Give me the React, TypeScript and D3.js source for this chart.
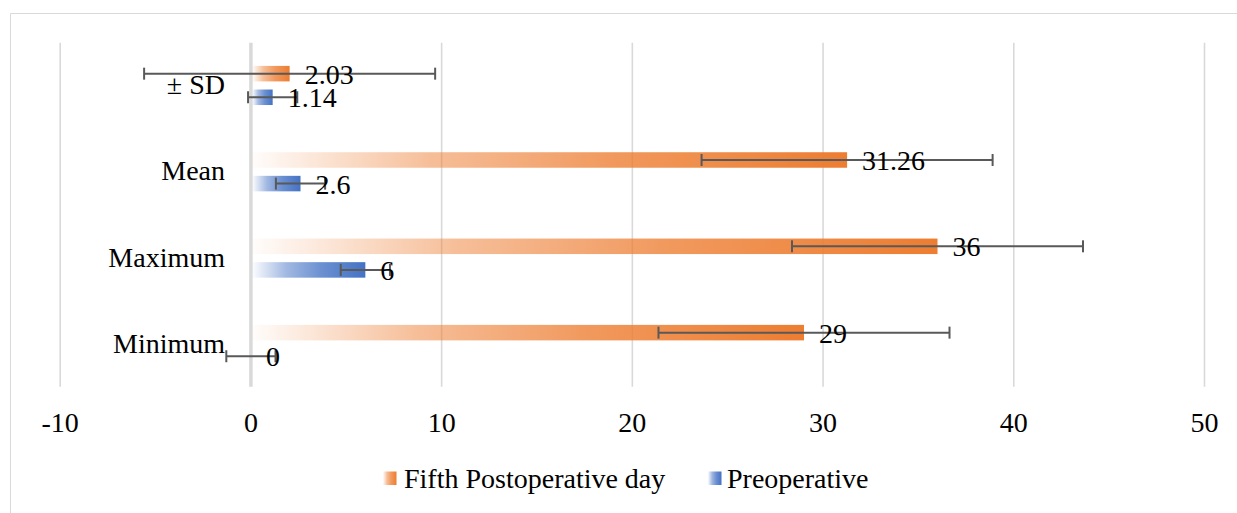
import React from "react";
import * as d3 from "d3";

const categories = ["± SD", "Mean", "Maximum", "Minimum"];
const seriesNames = ["Fifth Postoperative day", "Preoperative"];
const fifthValues = [2.03, 31.26, 36, 29];
const preValues = [1.14, 2.6, 6, 0];
const fifthLabels = ["2.03", "31.26", "36", "29"];
const preLabels = ["1.14", "2.6", "6", "0"];
const fifthError = [7.63, 7.63, 7.63, 7.63];
const preError = [1.29, 1.29, 1.29, 1.29];
const xTicks = [-10, 0, 10, 20, 30, 40, 50];

const W = 1237;
const H = 513;
const FONT = "'Liberation Serif', 'Times New Roman', serif";
const colors = ["#ED7D31", "#4472C4"];

export default function App() {
  const x = d3.scaleLinear().domain([-10, 50]).range([60.2, 1204.5]);
  const y = d3.scaleBand<string>().domain(categories).range([42.3, 387.6]).padding(0);
  const sub = d3
    .scaleBand<string>()
    .domain(["fifth", "pre"])
    .range([0, y.bandwidth()])
    .paddingInner(0.343)
    .paddingOuter(1.0);

  const series = [
    { key: "fifth", values: fifthValues, labels: fifthLabels, err: fifthError, color: colors[0], grad: "gradO" },
    { key: "pre", values: preValues, labels: preLabels, err: preError, color: colors[1], grad: "gradB" },
  ];
  const bh = sub.bandwidth();
  const cap = 6;

  return (
    <div style={{ position: "absolute", left: 0, top: 0 }}>
      <svg width={W} height={H} style={{ display: "block", background: "#fff" }} fontFamily={FONT}>
        <defs>
          {series.map((s) => (
            <linearGradient key={s.grad} id={s.grad} x1="0" y1="0" x2="1" y2="0">
              <stop offset="0" stopColor={s.color} stopOpacity={0.02} />
              <stop offset="0.3" stopColor={s.color} stopOpacity={0.5} />
              <stop offset="0.6" stopColor={s.color} stopOpacity={0.78} />
              <stop offset="1" stopColor={s.color} stopOpacity={1} />
            </linearGradient>
          ))}
        </defs>
        <rect x={0} y={0} width={W} height={H} fill="#fff" />
        <line x1={10.5} y1={13.5} x2={W} y2={13.5} stroke="#d9d9d9" strokeWidth={1} />
        <line x1={10.5} y1={13.5} x2={10.5} y2={H} stroke="#d9d9d9" strokeWidth={1} />

        {xTicks.map((t) => (
          <line
            key={"g" + t}
            x1={x(t)}
            x2={x(t)}
            y1={42.7}
            y2={386.8}
            stroke="#d9d9d9"
            strokeWidth={t === 0 ? 3.5 : 1.6}
          />
        ))}

        {series.map((s) =>
          categories.map((c, i) => {
            const yy = (y(c) as number) + (sub(s.key) as number);
            const x0 = x(0);
            const x1 = x(s.values[i]);
            return (
              <rect
                key={s.key + c}
                x={Math.min(x0, x1) + 1.5}
                y={yy}
                width={Math.max(0, Math.abs(x1 - x0) - 1.5)}
                height={bh}
                fill={`url(#${s.grad})`}
              />
            );
          })
        )}

        {series.map((s) =>
          categories.map((c, i) => {
            const cy = (y(c) as number) + (sub(s.key) as number) + bh / 2;
            const xl = x(s.values[i] - s.err[i]);
            const xr = x(s.values[i] + s.err[i]);
            return (
              <g key={"e" + s.key + c} stroke="#595959" strokeWidth={2}>
                <line x1={xl} x2={xr} y1={cy} y2={cy} />
                <line x1={xl} x2={xl} y1={cy - cap} y2={cy + cap} />
                <line x1={xr} x2={xr} y1={cy - cap} y2={cy + cap} />
              </g>
            );
          })
        )}

        {series.map((s) =>
          categories.map((c, i) => {
            const cy = (y(c) as number) + (sub(s.key) as number) + bh / 2;
            return (
              <text key={"l" + s.key + c} x={x(s.values[i]) + 15} y={cy + 10} fontSize={28} fill="#000">
                {s.labels[i]}
              </text>
            );
          })
        )}

        {categories.map((c) => (
          <text
            key={"c" + c}
            x={225}
            y={(y(c) as number) + y.bandwidth() / 2 + 8.5}
            fontSize={28}
            textAnchor="end"
            fill="#000"
          >
            {c}
          </text>
        ))}

        {xTicks.map((t) => (
          <text key={"t" + t} x={x(t)} y={432} fontSize={28} textAnchor="middle" fill="#000">
            {t}
          </text>
        ))}

        {[
          { mx: 383, tx: 404, s: series[0], name: seriesNames[0] },
          { mx: 708, tx: 727, s: series[1], name: seriesNames[1] },
        ].map((l) => (
          <g key={"leg" + l.name}>
            <rect x={l.mx} y={471.5} width={13.5} height={13.5} fill={`url(#${l.s.grad})`} />
            <text x={l.tx} y={488} fontSize={28} fill="#000">
              {l.name}
            </text>
          </g>
        ))}
      </svg>
    </div>
  );
}
